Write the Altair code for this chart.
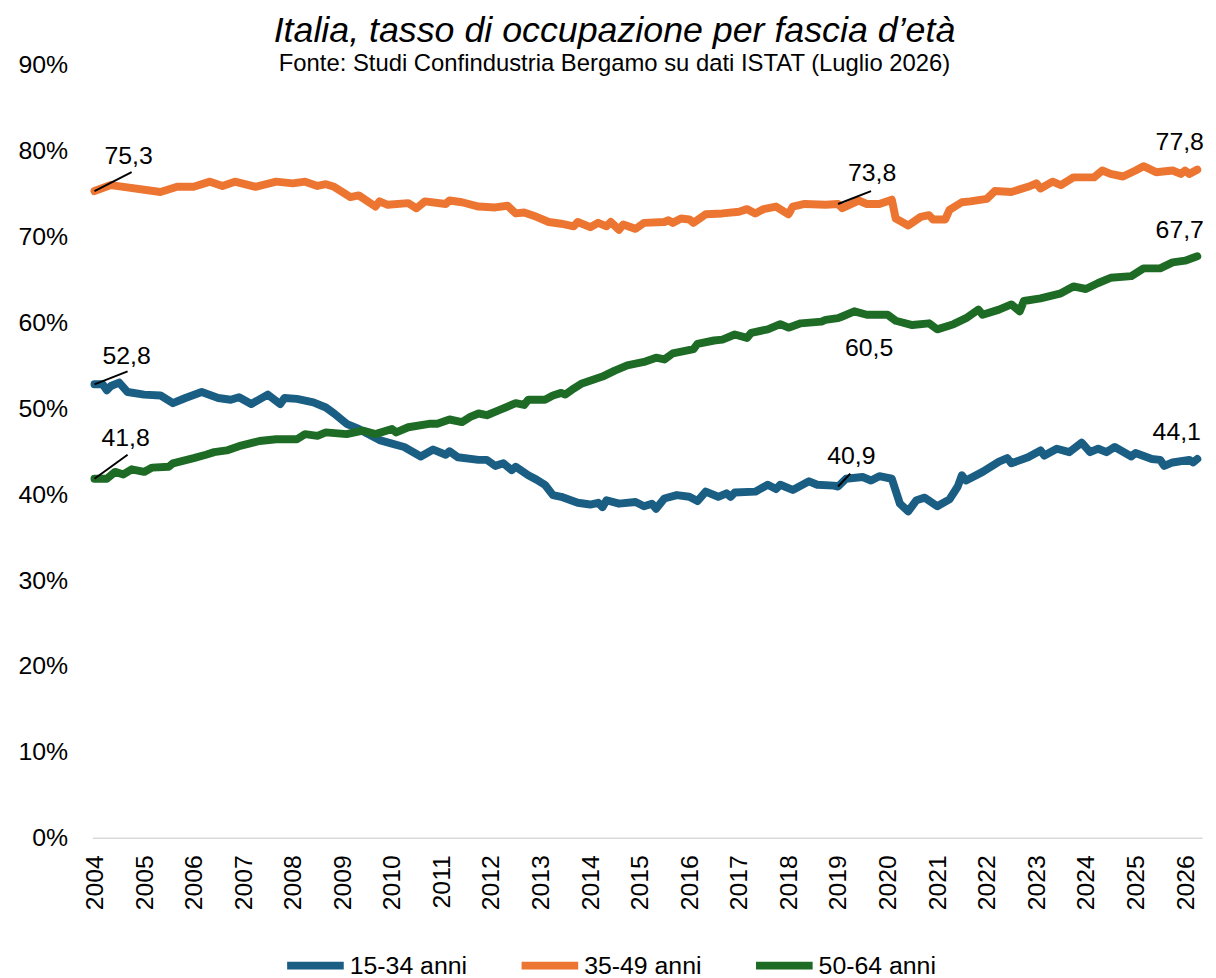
import altair as alt
import pandas as pd

SERIES = ["15-34 anni", "35-49 anni", "50-64 anni"]
COLORS = ["#1A5E84", "#ED7532", "#1E6B26"]

months_1534 = ["2004-01","2004-03","2004-04","2004-05","2004-07","2004-09","2005-01","2005-05","2005-08","2005-11",
               "2006-03","2006-07","2006-10","2006-12","2007-03","2007-07","2007-10","2007-11","2008-02","2008-06",
               "2008-09","2008-11","2009-02","2009-05","2009-10","2010-01","2010-04","2010-08","2010-11","2011-02",
               "2011-03","2011-05","2011-10","2011-12","2012-02","2012-04","2012-06","2012-07","2012-10","2012-12",
               "2013-02","2013-04","2013-06","2013-10","2014-01","2014-03","2014-04","2014-05","2014-08","2014-12",
               "2015-02","2015-04","2015-05","2015-07","2015-10","2016-01","2016-03","2016-05","2016-08","2016-10",
               "2016-11","2016-12","2017-05","2017-08","2017-10","2017-11","2018-02","2018-06","2018-08","2018-12",
               "2019-01","2019-03","2019-07","2019-09","2019-11","2020-02","2020-04","2020-06","2020-08","2020-10",
               "2021-01","2021-04","2021-06","2021-07","2021-08","2021-12","2022-04","2022-06","2022-07","2022-11",
               "2023-02","2023-03","2023-06","2023-09","2023-12","2024-02","2024-04","2024-06","2024-08","2024-12",
               "2025-01","2025-05","2025-07","2025-08","2025-10","2026-02","2026-03","2026-04"]
values_1534 = [52.8,52.8,52.1,52.6,53.0,51.9,51.6,51.5,50.6,51.2,
               51.9,51.2,51.0,51.3,50.5,51.6,50.5,51.2,51.1,50.7,
               50.1,49.4,48.2,47.6,46.3,45.9,45.5,44.4,45.2,44.6,
               45.0,44.3,44.0,44.0,43.3,43.6,42.8,43.2,42.2,41.7,
               41.1,39.9,39.7,39.0,38.8,39.0,38.5,39.3,38.9,39.1,
               38.6,38.9,38.3,39.5,39.9,39.7,39.2,40.3,39.7,40.1,
               39.7,40.2,40.3,41.1,40.6,41.1,40.5,41.5,41.1,41.0,
               40.9,41.8,42.0,41.6,42.1,41.8,38.9,38.0,39.3,39.6,
               38.6,39.4,40.9,42.2,41.6,42.6,43.8,44.2,43.6,44.3,
               45.1,44.5,45.3,44.9,46.0,44.9,45.3,44.9,45.5,44.4,
               44.8,44.1,44.0,43.3,43.7,44.0,43.7,44.1]

months_3549 = ["2004-01","2004-05","2005-05","2005-09","2006-01","2006-05","2006-08","2006-11","2007-04","2007-09",
               "2008-01","2008-04","2008-07","2008-09","2008-11","2009-03","2009-05","2009-09","2009-10","2009-12",
               "2010-05","2010-07","2010-09","2011-02","2011-03","2011-06","2011-10","2012-02","2012-05","2012-07",
               "2012-09","2012-12","2013-03","2013-06","2013-09","2013-10","2014-01","2014-03","2014-05","2014-06",
               "2014-08","2014-09","2014-12","2015-02","2015-07","2015-08","2015-09","2015-11","2016-01","2016-02",
               "2016-05","2016-09","2017-01","2017-03","2017-05","2017-07","2017-10","2018-01","2018-02","2018-05",
               "2018-10","2019-01","2019-02","2019-06","2019-08","2019-11","2020-02","2020-03","2020-06","2020-09",
               "2020-11","2020-12","2021-03","2021-04","2021-07","2021-09","2022-01","2022-03","2022-07","2022-11",
               "2023-01","2023-02","2023-05","2023-07","2023-10","2024-03","2024-05","2024-07","2024-10","2025-01",
               "2025-03","2025-06","2025-10","2025-12","2026-01","2026-02","2026-04"]
values_3549 = [75.3,76.0,75.2,75.8,75.8,76.4,75.9,76.4,75.8,76.4,
               76.2,76.4,75.9,76.1,75.8,74.6,74.8,73.5,74.1,73.7,
               73.9,73.3,74.1,73.8,74.2,74.0,73.5,73.4,73.6,72.7,
               72.8,72.3,71.7,71.5,71.2,71.7,71.1,71.6,71.2,71.7,
               70.8,71.4,70.9,71.6,71.7,71.9,71.6,72.1,72.0,71.6,
               72.6,72.7,72.9,73.2,72.7,73.2,73.5,72.6,73.5,73.8,
               73.7,73.8,73.3,74.2,73.8,73.8,74.3,72.1,71.3,72.3,
               72.5,72.0,72.0,73.1,74.0,74.1,74.4,75.3,75.2,75.8,
               76.2,75.6,76.4,76.0,76.9,76.9,77.7,77.3,77.0,77.7,
               78.2,77.5,77.7,77.3,77.7,77.3,77.8]

months_5064 = ["2004-01","2004-04","2004-06","2004-08","2004-10","2005-01","2005-03","2005-07","2005-08","2006-01",
               "2006-04","2006-06","2006-09","2006-12","2007-05","2007-09","2008-02","2008-04","2008-07","2008-09",
               "2009-02","2009-06","2009-09","2010-01","2010-02","2010-05","2010-10","2010-12","2011-03","2011-06",
               "2011-08","2011-10","2011-12","2012-03","2012-07","2012-09","2012-10","2013-02","2013-04","2013-06",
               "2013-07","2013-09","2013-11","2014-02","2014-04","2014-07","2014-10","2015-02","2015-05","2015-07",
               "2015-09","2015-12","2016-02","2016-03","2016-07","2016-09","2016-12","2017-03","2017-04","2017-08",
               "2017-11","2018-01","2018-04","2018-09","2018-10","2019-01","2019-02","2019-05","2019-08","2020-01",
               "2020-03","2020-07","2020-11","2021-01","2021-05","2021-08","2021-11","2021-12","2022-04","2022-07",
               "2022-09","2022-10","2023-02","2023-07","2023-10","2024-01","2024-04","2024-07","2024-12","2025-03",
               "2025-07","2025-10","2026-01","2026-04"]
values_5064 = [41.8,41.8,42.6,42.3,42.9,42.6,43.1,43.2,43.6,44.2,
               44.6,44.9,45.1,45.6,46.2,46.4,46.4,47.0,46.8,47.2,
               47.0,47.4,47.0,47.6,47.2,47.8,48.2,48.2,48.7,48.4,
               49.0,49.4,49.2,49.8,50.6,50.4,51.0,51.0,51.5,51.8,
               51.6,52.3,52.9,53.4,53.7,54.4,55.0,55.4,55.9,55.7,
               56.4,56.7,56.9,57.5,57.9,58.0,58.6,58.2,58.8,59.2,
               59.8,59.4,59.9,60.1,60.3,60.5,60.7,61.3,60.9,60.9,
               60.2,59.7,59.9,59.2,59.8,60.5,61.5,60.9,61.5,62.1,
               61.3,62.5,62.8,63.4,64.2,63.9,64.6,65.2,65.4,66.3,
               66.3,67.0,67.2,67.7]

frames = []
for name, ms, vs in [(SERIES[0], months_1534, values_1534),
                     (SERIES[1], months_3549, values_3549),
                     (SERIES[2], months_5064, values_5064)]:
    frames.append(pd.DataFrame({"series": name, "month": ms, "value": vs}))
df = pd.concat(frames, ignore_index=True)
df["date"] = pd.to_datetime(df["month"] + "-01")

# annotated points: (series, month, text dx, text dy, leader months, leader delta)
ANNOTATIONS = [
    (SERIES[1], "2004-01", 10, -27, 9, 2.2),
    (SERIES[0], "2004-01", 8, -20, 8, 1.5),
    (SERIES[2], "2004-01", 7, -33, 8, 2.8),
    (SERIES[1], "2019-01", 10, -23, 8, 1.5),
    (SERIES[0], "2019-01", -11, -23, 3, 1.5),
    (SERIES[2], "2019-01", 7, 38, None, None),
    (SERIES[1], "2026-04", -42, -20, None, None),
    (SERIES[2], "2026-04", -42, -18, None, None),
    (SERIES[0], "2026-04", -45, -19, None, None),
]

FONT = "Liberation Sans"

x_scale = alt.Scale(domain=[alt.DateTime(year=2003, month=12, date=17),
                            alt.DateTime(year=2026, month=5, date=6)])
y_scale = alt.Scale(domain=[0, 90], nice=False)

x_axis = alt.Axis(format="%Y", tickCount=alt.TimeIntervalStep(interval="year", step=1),
                  labelAngle=-90, ticks=False, grid=False, domainColor="#D9D9D9",
                  domainWidth=1.5, labelFontSize=25, labelPadding=17, title=None,
                  labelColor="black", labelFlush=False, labelOverlap=False, labelBound=False)
y_axis = alt.Axis(values=list(range(0, 91, 10)), labelExpr="datum.value + '%'",
                  grid=False, domain=False, ticks=False, labelFontSize=25,
                  labelPadding=25, title=None, labelColor="black", labelFlush=False)

lines = alt.Chart(df).mark_line(strokeWidth=8, strokeCap="round", strokeJoin="round").encode(
    x=alt.X("date:T", scale=x_scale, axis=x_axis),
    y=alt.Y("value:Q", scale=y_scale, axis=y_axis),
    color=alt.Color("series:N", scale=alt.Scale(domain=SERIES, range=COLORS),
                    legend=alt.Legend(title=None, orient="none", legendX=192, legendY=874,
                                      direction="horizontal", columns=3, columnPadding=38,
                                      symbolType="stroke", symbolSize=3249, symbolStrokeWidth=8,
                                      labelFontSize=25, labelOffset=2, labelColor="black")),
)

rows = []
for i, (s, m, dx, dy, lm, ld) in enumerate(ANNOTATIONS):
    v = float(df[(df["series"] == s) & (df["month"] == m)]["value"].iloc[0])
    d = pd.to_datetime(m + "-01")
    rows.append({"key": i, "series": s, "date": d, "value": v,
                 "label": f"{v:.1f}".replace(".", ","),
                 "date2": d + pd.DateOffset(months=lm) if lm is not None else None,
                 "value2": v + ld if ld is not None else None})
ann = pd.DataFrame(rows)
lead = ann.dropna(subset=["value2"]).copy()
lead["date2"] = pd.to_datetime(lead["date2"])

leaders = alt.Chart(lead).mark_rule(color="black", strokeWidth=2).encode(
    x="date:T", y="value:Q", x2="date2:T", y2="value2:Q")

layers = [lines, leaders]
for i, (s, m, dx, dy, lm, ld) in enumerate(ANNOTATIONS):
    layers.append(
        alt.Chart(ann[["key", "date", "value", "label"]]).transform_filter(alt.datum.key == i)
        .mark_text(align="left", baseline="alphabetic", dx=dx, dy=dy, fontSize=25, color="black")
        .encode(x="date:T", y="value:Q", text="label:N")
    )

chart = alt.layer(*layers).properties(
    width=1117, height=778,
    title=alt.Title(text="Italia, tasso di occupazione per fascia d’età",
                    subtitle="Fonte: Studi Confindustria Bergamo su dati ISTAT (Luglio 2026)",
                    fontSize=36, fontStyle="italic", fontWeight="normal", color="black",
                    subtitleFontSize=24, subtitleColor="black", subtitlePadding=2,
                    anchor="middle", frame="group", offset=-24, dx=-33,
                    font=FONT, subtitleFont=FONT),
    autosize=alt.AutoSizeParams(type="none"),
    padding={"left": 85, "top": 54, "right": 6, "bottom": 140},
).configure(font=FONT).configure_view(stroke=None)

chart.save("out.html", embed_options={"renderer": "svg", "actions": False})
